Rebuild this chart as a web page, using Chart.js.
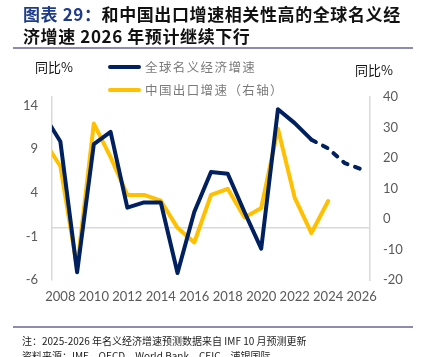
<!DOCTYPE html>
<html>
<head>
<meta charset="utf-8">
<script src="https://cdn.jsdelivr.net/npm/chart.js@4.4.1/dist/chart.umd.min.js"></script>
<style>
  html, body { margin:0; padding:0; background:#fff; }
  body { width:421px; height:357px; position:relative; overflow:hidden; }
  #c { position:absolute; left:0; top:0; }
  .t { position:absolute; white-space:nowrap; }
  #title { left:23px; top:3px; font-family:"Noto Sans CJK SC"; font-weight:bold; font-size:17px; line-height:22px; letter-spacing:0.6px; color:#111; }
  #title .hl { color:#1f3c88; }
  .rule { position:absolute; left:13px; width:400px; height:1.5px; background:#8c8cae; }
  .unit { font-family:"Noto Sans CJK SC"; font-size:13px; color:#111; line-height:16px; }
  .leg { font-family:"Noto Sans CJK SC"; font-size:12.5px; letter-spacing:1.4px; color:#7a7a7a; line-height:16px; }
  .sw { position:absolute; width:33px; height:4px; border-radius:2px; }
  .note { font-family:"Noto Sans CJK SC"; font-size:10px; color:#222; line-height:13px; }
</style>
</head>
<body>
<canvas id="c" width="421" height="357"></canvas>
<div id="title" class="t"><span class="hl">图表 29：</span>和中国出口增速相关性高的全球名义经<br>济增速 2026 年预计继续下行</div>
<div class="rule" style="top:47px"></div>
<div class="t unit" style="left:35px; top:59px">同比%</div>
<div class="t unit" style="left:355px; top:62px">同比%</div>
<div class="sw" style="left:108px; top:65px; background:#002060"></div>
<div class="t leg" style="left:145px; top:59px">全球名义经济增速</div>
<div class="sw" style="left:108px; top:88px; background:#FFC000"></div>
<div class="t leg" style="left:145px; top:82px">中国出口增速（右轴）</div>
<div class="rule" style="top:326px"></div>
<div class="t note" style="left:22px; top:334px">注：2025-2026 年名义经济增速预测数据来自 IMF 10 月预测更新</div>
<div class="t note" style="left:22px; top:349px">资料来源：IMF、OECD、World Bank、CEIC、浦银国际</div>
<script>
const years = [2007,2008,2009,2010,2011,2012,2013,2014,2015,2016,2017,2018,2019,2020,2021,2022,2023,2024,2025,2026];
const globalNominalGrowth = [13.0,9.9,-5.1,9.6,11.0,2.3,2.9,2.9,-5.2,1.8,6.4,6.2,1.8,-2.4,13.6,12.0,10.1,9.1,7.4,6.7];
const chinaExportGrowth = [25.9,17.3,-16.0,31.3,20.3,7.9,7.9,6.0,-2.9,-7.7,7.9,9.9,0.5,3.6,29.6,7.0,-4.6,5.9,null,null];
const xTickLabels = [2008,2010,2012,2014,2016,2018,2020,2022,2024,2026];
const leftTicks = [-6,-1,4,9,14];
const rightTicks = [-20,-10,0,10,20,30,40];
const dashFromYear = 2023;

const dashIdx = years.indexOf(dashFromYear);
const pts = (arr) => years.map((y,i) => ({x:y, y:arr[i]})).filter(p => p.y !== null);
const tickFont = { family:"Lato", size:13 };
const tickColor = '#595959';

new Chart(document.getElementById('c'), {
  type:'line',
  data:{
    datasets:[
      { label:'全球名义经济增速', data:pts(globalNominalGrowth), yAxisID:'y',
        borderColor:'#002060', borderWidth:4, pointRadius:0, tension:0, clip:0,
        borderJoinStyle:'round', borderCapStyle:'round',
        segment:{ borderDash: ctx => ctx.p0DataIndex >= dashIdx ? [5,8] : undefined } },
      { label:'中国出口增速（右轴）', data:pts(chinaExportGrowth), yAxisID:'y1',
        borderColor:'#FFC000', borderWidth:4, pointRadius:0, tension:0, clip:0,
        borderJoinStyle:'round', borderCapStyle:'round' }
    ]
  },
  options:{
    responsive:false, animation:false, devicePixelRatio:1,
    layout:{ padding:{ top:97, left:0, right:0, bottom:0 } },
    plugins:{ legend:{display:false}, tooltip:{enabled:false} },
    scales:{
      x:{ type:'linear', min:2007.5, max:2026.5,
        afterBuildTicks: s => { s.ticks = xTickLabels.map(v => ({value:v})); },
        afterFit: s => { s.height = 77; },
        grid:{ display:false, drawTicks:false }, border:{ display:false },
        ticks:{ font:tickFont, color:tickColor, padding:9, maxRotation:0, autoSkip:false,
                callback: v => String(v) } },
      y:{ position:'left', min:-6, max:15,
        afterBuildTicks: s => { s.ticks = leftTicks.map(v => ({value:v})); },
        afterFit: s => { s.width = 52; },
        grid:{ drawTicks:false, lineWidth:1.5, color: c => (c.tick && c.tick.value === 0) ? '#d9d9d9' : 'rgba(0,0,0,0)' },
        border:{ display:true, color:'#d9d9d9', width:1.5 },
        ticks:{ font:tickFont, color:tickColor, padding:14 } },
      y1:{ position:'right', min:-20, max:40,
        afterBuildTicks: s => { s.ticks = rightTicks.map(v => ({value:v})); },
        afterFit: s => { s.width = 51; },
        grid:{ drawOnChartArea:false, drawTicks:false },
        border:{ display:true, color:'#d9d9d9', width:1.5 },
        ticks:{ font:tickFont, color:tickColor, padding:13 } }
    }
  },
  plugins:[{
    id:'zeroLine',
    beforeDatasetsDraw(chart){
      const y = chart.scales.y.getPixelForValue(0);
      const a = chart.chartArea, ctx = chart.ctx;
      ctx.save(); ctx.strokeStyle = '#d9d9d9'; ctx.lineWidth = 1.5;
      ctx.beginPath(); ctx.moveTo(a.left, y); ctx.lineTo(a.right, y); ctx.stroke(); ctx.restore();
    }
  }]
});
</script>
</body>
</html>
